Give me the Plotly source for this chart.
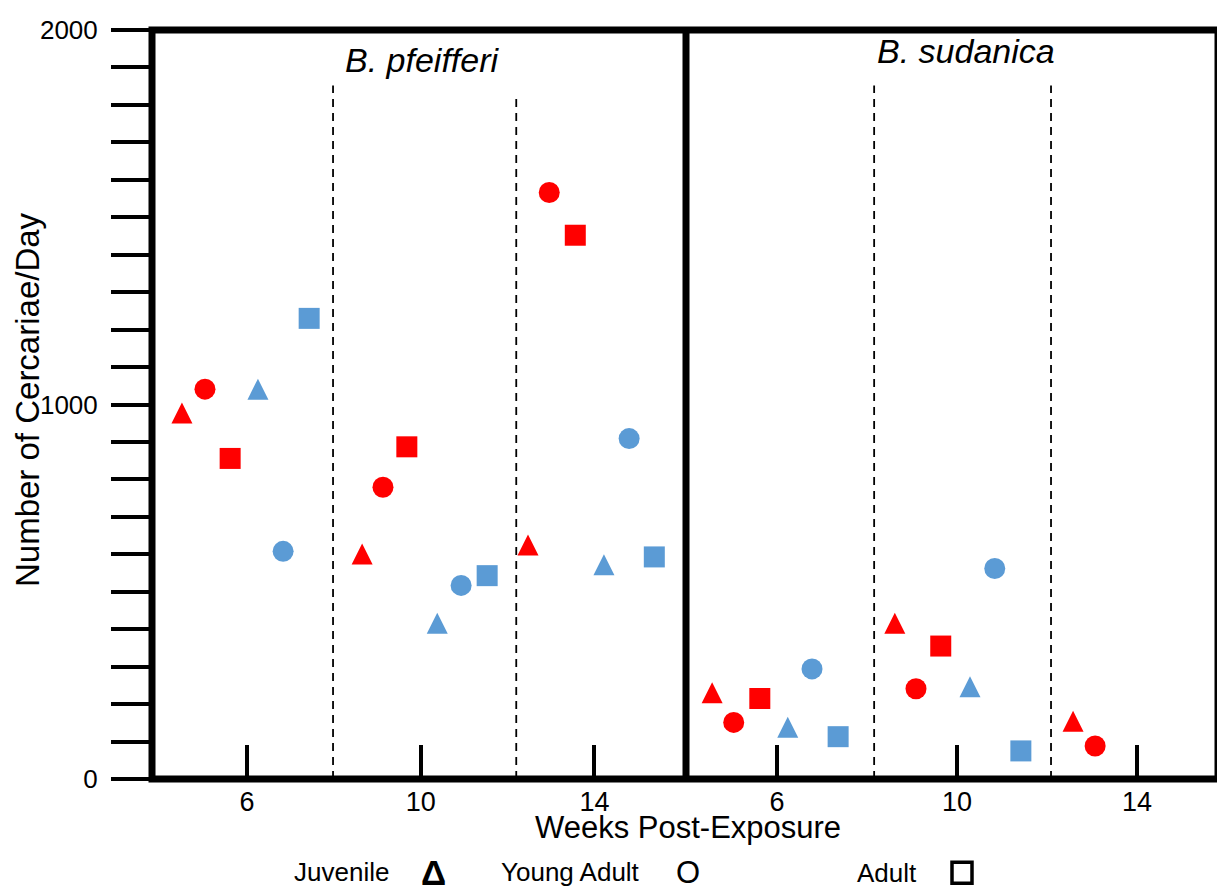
import plotly.graph_objects as go

# ---------------- data ----------------
x_tick_values = [6, 10, 14]
y_tick_values = [0, 100, 200, 300, 400, 500, 600, 700, 800, 900, 1000,
                 1100, 1200, 1300, 1400, 1500, 1600, 1700, 1800, 1900, 2000]
y_tick_labels = ["0", "", "", "", "", "", "", "", "", "", "1000",
                 "", "", "", "", "", "", "", "", "", "2000"]

panel_titles = ["B. pfeifferi", "B. sudanica"]
legend_labels = ["Juvenile", "Young Adult", "Adult"]
legend_glyphs = ["Δ", "O"]

# B. pfeifferi (left panel): weeks post-exposure, cercariae/day
pf_red_juv_wk = [4.50, 8.65, 12.47]
pf_red_juv_n = [977, 601, 625]
pf_red_ya_wk = [5.03, 9.13, 12.96]
pf_red_ya_n = [1041, 779, 1566]
pf_red_ad_wk = [5.61, 9.68, 13.56]
pf_red_ad_n = [856, 887, 1452]
pf_blue_juv_wk = [6.25, 10.38, 14.22]
pf_blue_juv_n = [1041, 416, 572]
pf_blue_ya_wk = [6.83, 10.93, 14.80]
pf_blue_ya_n = [608, 517, 909]
pf_blue_ad_wk = [7.43, 11.53, 15.38]
pf_blue_ad_n = [1230, 543, 593]
pf_dash_wk = [7.98, 12.20]
pf_dash_top = [1852, 1820]

# B. sudanica (right panel)
bs_red_juv_wk = [4.56, 8.62, 12.58]
bs_red_juv_n = [230, 416, 154]
bs_red_ya_wk = [5.04, 9.09, 13.07]
bs_red_ya_n = [151, 241, 88]
bs_red_ad_wk = [5.62, 9.64]
bs_red_ad_n = [215, 355]
bs_blue_juv_wk = [6.24, 10.29]
bs_blue_juv_n = [138, 246]
bs_blue_ya_wk = [6.78, 10.84]
bs_blue_ya_n = [294, 562]
bs_blue_ad_wk = [7.36, 11.42]
bs_blue_ad_n = [113, 75]
bs_dash_wk = [8.16, 12.09]
bs_dash_top = [1852, 1852]

# ---------------- style ----------------
RED = "#FF0000"
BLUE = "#5B9BD5"
FONT = "Liberation Sans, Arial, sans-serif"
OFF = 8                      # default page body margin
W, H = 1225 - OFF, 894 - OFF
L, R, T, B = 152, 1218, 24, 779  # plot area in screen pixels
SPLIT = 686
split_frac = (SPLIT - L) / (R - L)
MS = 21


def px(xp, yp):
    return (xp - L) / (R - L), (B - yp) / (B - T)


fig = go.Figure()


def add_marks(wk, n, color, shape, xa):
    marker = dict(color=color, size=MS, line=dict(width=0))
    if shape == "tri":
        marker.update(symbol="arrow-down", angle=180, standoff=MS / 2)
    elif shape == "circ":
        marker.update(symbol="circle")
    else:
        marker.update(symbol="square")
    fig.add_trace(go.Scatter(x=wk, y=n, mode="markers", marker=marker,
                             xaxis=xa, yaxis="y", showlegend=False,
                             hoverinfo="x+y"))


# dashed separators
for wk, top, xa in [(pf_dash_wk, pf_dash_top, "x"), (bs_dash_wk, bs_dash_top, "x2")]:
    for w_, t_ in zip(wk, top):
        fig.add_trace(go.Scatter(x=[w_, w_], y=[0, t_], mode="lines",
                                 line=dict(color="black", width=1.8, dash="8px,6px"),
                                 xaxis=xa, yaxis="y", showlegend=False,
                                 hoverinfo="skip"))

add_marks(pf_red_juv_wk, pf_red_juv_n, RED, "tri", "x")
add_marks(pf_red_ya_wk, pf_red_ya_n, RED, "circ", "x")
add_marks(pf_red_ad_wk, pf_red_ad_n, RED, "sq", "x")
add_marks(pf_blue_juv_wk, pf_blue_juv_n, BLUE, "tri", "x")
add_marks(pf_blue_ya_wk, pf_blue_ya_n, BLUE, "circ", "x")
add_marks(pf_blue_ad_wk, pf_blue_ad_n, BLUE, "sq", "x")

add_marks(bs_red_juv_wk, bs_red_juv_n, RED, "tri", "x2")
add_marks(bs_red_ya_wk, bs_red_ya_n, RED, "circ", "x2")
add_marks(bs_red_ad_wk, bs_red_ad_n, RED, "sq", "x2")
add_marks(bs_blue_juv_wk, bs_blue_juv_n, BLUE, "tri", "x2")
add_marks(bs_blue_ya_wk, bs_blue_ya_n, BLUE, "circ", "x2")
add_marks(bs_blue_ad_wk, bs_blue_ad_n, BLUE, "sq", "x2")

xaxis_common = dict(
    tickvals=x_tick_values, ticks="inside", ticklen=34, tickwidth=4,
    tickcolor="black", showgrid=False, zeroline=False, showline=False,
    tickfont=dict(family=FONT, size=27, color="black"),
    ticklabelstandoff=4, fixedrange=True,
)

annotations = []
# panel titles
annotations.append(dict(text="<i>" + panel_titles[0] + "</i>", x=10.05, y=1920,
                        xref="x", yref="y", showarrow=False,
                        font=dict(family=FONT, size=34, color="black")))
annotations.append(dict(text="<i>" + panel_titles[1] + "</i>", x=10.2, y=1945,
                        xref="x2", yref="y", showarrow=False,
                        font=dict(family=FONT, size=34, color="black")))

# axis titles
xt, yt = px(688, 828)
annotations.append(dict(text="Weeks Post-Exposure", x=xt, y=yt, xref="paper", yref="paper",
                        showarrow=False, xanchor="center", yanchor="middle",
                        font=dict(family=FONT, size=31, color="black")))
xt, yt = px(27, 397)
annotations.append(dict(text="Number of Cercariae/Day", x=xt, y=yt, xref="paper", yref="paper",
                        showarrow=False, textangle=-90, xanchor="center", yanchor="middle",
                        borderpad=0,
                        font=dict(family=FONT, size=33, color="black")))

# legend (text + glyphs)
legend_text_px = [(341, 873), (570, 873), (887, 874)]
legend_glyph_px = [(433, 873), (688, 873)]
legend_glyph_sizes = [35, 31]
legend_glyph_bold = [True, False]
for lab, (xp_, yp_) in zip(legend_labels, legend_text_px):
    xa_, ya_ = px(xp_, yp_)
    annotations.append(dict(text=lab, x=xa_, y=ya_, xref="paper", yref="paper",
                            showarrow=False, xanchor="center", yanchor="middle",
                            font=dict(family=FONT, size=26, color="black")))
for g, sz, bd, (xp_, yp_) in zip(legend_glyphs, legend_glyph_sizes, legend_glyph_bold, legend_glyph_px):
    xa_, ya_ = px(xp_, yp_)
    annotations.append(dict(text=("<b>" + g + "</b>") if bd else g, x=xa_, y=ya_,
                            xref="paper", yref="paper",
                            showarrow=False, xanchor="center", yanchor="middle",
                            font=dict(family=FONT, size=sz, color="black")))

# open-square legend key for "Adult"
sq_x0, sq_y0 = px(952, 863)
sq_x1, sq_y1 = px(972, 884)

shapes = [
    dict(type="rect", xref="paper", yref="paper", x0=0, x1=1, y0=0, y1=1,
         line=dict(color="black", width=7), layer="above"),
    dict(type="line", xref="paper", yref="paper", x0=split_frac, x1=split_frac, y0=0, y1=1,
         line=dict(color="black", width=7), layer="above"),
    dict(type="rect", xref="paper", yref="paper", x0=sq_x0, x1=sq_x1, y0=sq_y0, y1=sq_y1,
         line=dict(color="black", width=3.5), fillcolor="rgba(0,0,0,0)", layer="above"),
]

fig.update_layout(
    width=W, height=H,
    margin=dict(l=L - OFF, r=W - (R - OFF), t=T - OFF, b=H - (B - OFF), pad=0),
    paper_bgcolor="white", plot_bgcolor="white",
    showlegend=False,
    xaxis=dict(domain=[0, split_frac], range=[3.81, 16.11], anchor="y", **xaxis_common),
    xaxis2=dict(domain=[split_frac, 1], range=[3.98, 15.80], anchor="y", **xaxis_common),
    yaxis=dict(range=[0, 2000], tickvals=y_tick_values, ticktext=y_tick_labels,
               ticks="outside", ticklen=40, tickwidth=4, tickcolor="black",
               showgrid=False, zeroline=False, showline=False,
               tickfont=dict(family=FONT, size=26, color="black"),
               ticklabelstandoff=8, fixedrange=True),
    annotations=annotations,
    shapes=shapes,
)

fig.write_html("out.html")
